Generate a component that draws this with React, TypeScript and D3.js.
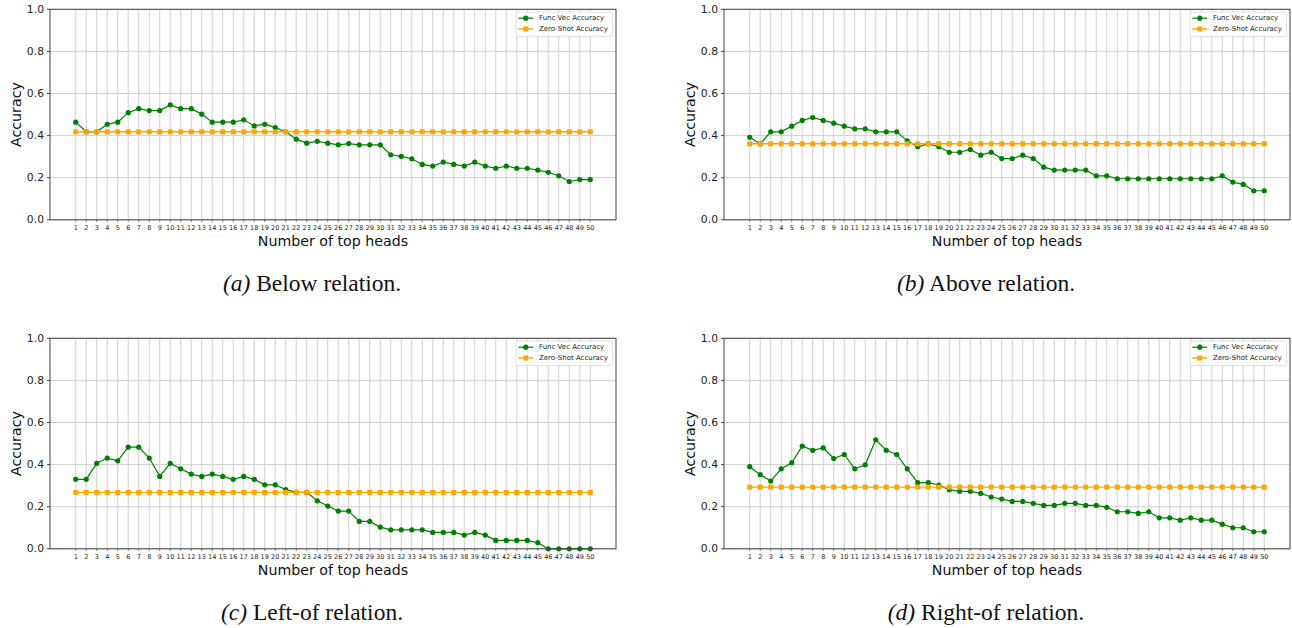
import React from "react";
import * as d3 from "d3";

const TOP_HEADS = [1,2,3,4,5,6,7,8,9,10,11,12,13,14,15,16,17,18,19,20,21,22,23,24,25,26,27,28,29,30,31,32,33,34,35,36,37,38,39,40,41,42,43,44,45,46,47,48,49,50];
const Y_TICKS = [0, 0.2, 0.4, 0.6, 0.8, 1.0];

const BELOW_FV = [0.464,0.418,0.418,0.454,0.464,0.509,0.528,0.519,0.519,0.546,0.528,0.528,0.502,0.464,0.464,0.464,0.475,0.446,0.454,0.438,0.418,0.383,0.364,0.373,0.364,0.356,0.362,0.356,0.356,0.356,0.309,0.301,0.290,0.263,0.255,0.274,0.263,0.255,0.274,0.255,0.245,0.255,0.245,0.245,0.236,0.226,0.209,0.182,0.191,0.191];
const BELOW_ZS = [0.418,0.418,0.418,0.418,0.418,0.418,0.418,0.418,0.418,0.418,0.418,0.418,0.418,0.418,0.418,0.418,0.418,0.418,0.418,0.418,0.418,0.418,0.418,0.418,0.418,0.418,0.418,0.418,0.418,0.418,0.418,0.418,0.418,0.418,0.418,0.418,0.418,0.418,0.418,0.418,0.418,0.418,0.418,0.418,0.418,0.418,0.418,0.418,0.418,0.418];

const ABOVE_FV = [0.392,0.361,0.418,0.418,0.445,0.472,0.486,0.472,0.459,0.445,0.432,0.432,0.418,0.418,0.418,0.375,0.347,0.361,0.347,0.321,0.321,0.334,0.307,0.321,0.291,0.291,0.307,0.291,0.250,0.236,0.236,0.236,0.236,0.209,0.209,0.195,0.195,0.195,0.195,0.195,0.195,0.195,0.195,0.195,0.195,0.209,0.179,0.168,0.138,0.138];
const ABOVE_ZS = [0.361,0.361,0.361,0.361,0.361,0.361,0.361,0.361,0.361,0.361,0.361,0.361,0.361,0.361,0.361,0.361,0.361,0.361,0.361,0.361,0.361,0.361,0.361,0.361,0.361,0.361,0.361,0.361,0.361,0.361,0.361,0.361,0.361,0.361,0.361,0.361,0.361,0.361,0.361,0.361,0.361,0.361,0.361,0.361,0.361,0.361,0.361,0.361,0.361,0.361];

const LEFT_FV = [0.330,0.330,0.406,0.431,0.418,0.483,0.483,0.431,0.344,0.406,0.380,0.355,0.344,0.355,0.344,0.330,0.344,0.330,0.304,0.304,0.281,0.268,0.268,0.228,0.203,0.179,0.179,0.130,0.130,0.103,0.090,0.090,0.090,0.090,0.078,0.078,0.078,0.065,0.078,0.065,0.040,0.040,0.040,0.040,0.029,0.0,0.0,0.0,0.0,0.0];
const LEFT_ZS = [0.268,0.268,0.268,0.268,0.268,0.268,0.268,0.268,0.268,0.268,0.268,0.268,0.268,0.268,0.268,0.268,0.268,0.268,0.268,0.268,0.268,0.268,0.268,0.268,0.268,0.268,0.268,0.268,0.268,0.268,0.268,0.268,0.268,0.268,0.268,0.268,0.268,0.268,0.268,0.268,0.268,0.268,0.268,0.268,0.268,0.268,0.268,0.268,0.268,0.268];

const RIGHT_FV = [0.390,0.352,0.322,0.380,0.409,0.488,0.468,0.479,0.429,0.448,0.380,0.399,0.518,0.468,0.448,0.380,0.314,0.314,0.303,0.281,0.273,0.273,0.263,0.246,0.236,0.225,0.225,0.216,0.206,0.206,0.216,0.216,0.206,0.206,0.197,0.176,0.176,0.168,0.176,0.147,0.147,0.136,0.147,0.136,0.136,0.117,0.100,0.100,0.081,0.081];
const RIGHT_ZS = [0.293,0.293,0.293,0.293,0.293,0.293,0.293,0.293,0.293,0.293,0.293,0.293,0.293,0.293,0.293,0.293,0.293,0.293,0.293,0.293,0.293,0.293,0.293,0.293,0.293,0.293,0.293,0.293,0.293,0.293,0.293,0.293,0.293,0.293,0.293,0.293,0.293,0.293,0.293,0.293,0.293,0.293,0.293,0.293,0.293,0.293,0.293,0.293,0.293,0.293];

const PANELS = [
  { letter: "(a)", caption: "Below relation.", fv: BELOW_FV, zs: BELOW_ZS },
  { letter: "(b)", caption: "Above relation.", fv: ABOVE_FV, zs: ABOVE_ZS },
  { letter: "(c)", caption: "Left-of relation.", fv: LEFT_FV, zs: LEFT_ZS },
  { letter: "(d)", caption: "Right-of relation.", fv: RIGHT_FV, zs: RIGHT_ZS },
];

const GREEN = "#008000";
const ORANGE = "#FFA500";
const FONT = "DejaVu Sans, sans-serif";

const PW = 566;
const PH = 210.5;

function Panel({ p, ox, oy }: { p: any; ox: number; oy: number }) {
  const left = ox + 50;
  const top = oy + 9.3;
  const x = d3.scaleLinear().domain([1 - 2.45, 50 + 2.45]).range([0, PW]);
  const y = d3.scaleLinear().domain([0, 1]).range([PH, 0]);
  const line = d3.line<number>().x((_, i) => x(TOP_HEADS[i])).y((d) => y(d));
  return (
    <g>
      <g transform={`translate(${left},${top})`}>
        {TOP_HEADS.map((t) => (
          <line key={"gx" + t} x1={x(t)} x2={x(t)} y1={0} y2={PH} stroke="#cfcfcf" strokeWidth={1} />
        ))}
        {Y_TICKS.map((t) => (
          <line key={"gy" + t} x1={0} x2={PW} y1={y(t)} y2={y(t)} stroke="#cfcfcf" strokeWidth={1} />
        ))}
        <path d={line(p.fv) || ""} fill="none" stroke={GREEN} strokeWidth={1.2} />
        {p.fv.map((v: number, i: number) => (
          <circle key={"c" + i} cx={x(TOP_HEADS[i])} cy={y(v)} r={2.6} fill={GREEN} />
        ))}
        <path d={line(p.zs) || ""} fill="none" stroke={ORANGE} strokeWidth={1.4} />
        {p.zs.map((v: number, i: number) => (
          <rect key={"s" + i} x={x(TOP_HEADS[i]) - 2.5} y={y(v) - 2.5} width={5} height={5} fill={ORANGE} />
        ))}
        <rect x={0} y={0} width={PW} height={PH} fill="none" stroke="#444" strokeWidth={1} />
        {Y_TICKS.map((t) => (
          <g key={"yt" + t}>
            <line x1={-3} x2={0} y1={y(t)} y2={y(t)} stroke="#444" strokeWidth={1} />
            <text x={-6} y={y(t)} textAnchor="end" dominantBaseline="central" fontFamily={FONT} fontSize={10.8} fill="#222">
              {t.toFixed(1)}
            </text>
          </g>
        ))}
        {TOP_HEADS.map((t) => (
          <g key={"xt" + t}>
            <line x1={x(t)} x2={x(t)} y1={PH} y2={PH + 2} stroke="#444" strokeWidth={0.8} />
            <text x={x(t)} y={PH + 8} textAnchor="middle" dominantBaseline="central" fontFamily={FONT} fontSize={6.5} fill="#222">
              {t}
            </text>
          </g>
        ))}
        <text x={PW / 2} y={PH + 21.5} textAnchor="middle" dominantBaseline="central" fontFamily={FONT} fontSize={14.2} fill="#111">
          Number of top heads
        </text>
        <text transform={`translate(${-34.5},${PH / 2}) rotate(-90)`} textAnchor="middle" dominantBaseline="central" fontFamily={FONT} fontSize={14.2} fill="#111">
          Accuracy
        </text>
        <g transform={`translate(466,2.7)`}>
          <rect x={0} y={0} width={96.5} height={24.5} rx={2} fill="white" fillOpacity={0.85} stroke="#d8d8d8" strokeWidth={0.8} />
          <line x1={2.3} x2={17.3} y1={6.2} y2={6.2} stroke={GREEN} strokeWidth={1.2} />
          <circle cx={9.8} cy={6.2} r={2.6} fill={GREEN} />
          <text x={23} y={6.2} dominantBaseline="central" fontFamily={FONT} fontSize={7} fill="#222">Func Vec Accuracy</text>
          <line x1={2.3} x2={17.3} y1={17} y2={17} stroke={ORANGE} strokeWidth={1.4} />
          <rect x={9.8 - 2.5} y={17 - 2.5} width={5} height={5} fill={ORANGE} />
          <text x={23} y={17} dominantBaseline="central" fontFamily={FONT} fontSize={7} fill="#222">Zero-Shot Accuracy</text>
        </g>
      </g>
      <text x={ox + 312} y={oy + 291} textAnchor="middle" fontFamily="Liberation Serif, Times New Roman, serif" fontSize={23.5} fill="#111">
        <tspan fontStyle="italic">{p.letter}</tspan>
        <tspan> {p.caption}</tspan>
      </text>
    </g>
  );
}

export default function App() {
  const offsets = [
    [0, 0],
    [674, 0],
    [0, 329],
    [674, 329],
  ];
  return (
    <div style={{ position: "absolute", left: 0, top: 0 }}>
      <svg width={1292} height={628} style={{ display: "block", background: "white" }}>
        {PANELS.map((p, i) => (
          <Panel key={i} p={p} ox={offsets[i][0]} oy={offsets[i][1]} />
        ))}
      </svg>
    </div>
  );
}
